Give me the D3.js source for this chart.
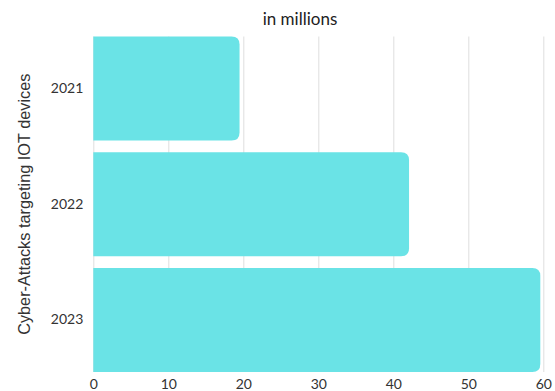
<!DOCTYPE html>
<html>
<head>
<meta charset="utf-8">
<script src="https://cdn.jsdelivr.net/npm/d3@7"></script>
<style>
  html, body { margin: 0; padding: 0; background: #fff; }
  svg { display: block; }
</style>
</head>
<body>
<svg id="chart" width="555" height="391"></svg>
<script>
// Cyber-attacks targeting IoT devices, in millions
const years = ["2021", "2022", "2023"];
const attacks = [19.5, 42.1, 59.6];
const xTicks = [0, 10, 20, 30, 40, 50, 60];

const width = 555, height = 391;
const margin = { top: 36.5, right: 12, bottom: 19, left: 93.3 };
const svg = d3.select("#chart");

const x = d3.scaleLinear()
  .domain([0, 60])
  .range([margin.left, margin.left + 450]);

const y = d3.scaleBand()
  .domain(years)
  .range([margin.top, height - margin.bottom])
  .paddingInner(0.1)
  .paddingOuter(0);

// vertical gridlines
svg.append("g")
  .selectAll("line")
  .data(xTicks)
  .join("line")
  .attr("x1", d => x(d) + 0.5)
  .attr("x2", d => x(d) + 0.5)
  .attr("y1", margin.top)
  .attr("y2", height - margin.bottom)
  .attr("stroke", "#dedede")
  .attr("stroke-width", 1);

// bars: square on the left, rounded on the right
const r = 8;
function barPath(x0, x1, y0, h) {
  const rr = Math.min(r, (x1 - x0) / 2, h / 2);
  return `M${x0},${y0}` +
    `H${x1 - rr}` +
    `Q${x1},${y0} ${x1},${y0 + rr}` +
    `V${y0 + h - rr}` +
    `Q${x1},${y0 + h} ${x1 - rr},${y0 + h}` +
    `H${x0}Z`;
}

svg.append("g")
  .selectAll("path")
  .data(years.map((yr, i) => ({ yr, v: attacks[i] })))
  .join("path")
  .attr("d", d => barPath(x(0), x(d.v), y(d.yr), y.bandwidth()))
  .attr("fill", "#6ae3e6");

// x axis labels
const xAxis = svg.append("g")
  .attr("transform", `translate(0,${height - margin.bottom})`)
  .call(d3.axisBottom(x).tickValues(xTicks).tickSize(0).tickPadding(7));
xAxis.select(".domain").remove();
xAxis.selectAll("text")
  .attr("font-family", "Lato, sans-serif")
  .attr("font-size", 14)
  .attr("fill", "#333");

// y axis labels
const yAxis = svg.append("g")
  .attr("transform", `translate(${margin.left},0)`)
  .call(d3.axisLeft(y).tickSize(0).tickPadding(10));
yAxis.select(".domain").remove();
yAxis.selectAll("text")
  .attr("font-family", "Lato, sans-serif")
  .attr("font-size", 14)
  .attr("fill", "#333");

// title
svg.append("text")
  .attr("x", 300)
  .attr("y", 25)
  .attr("text-anchor", "middle")
  .attr("font-family", "Lato, sans-serif")
  .attr("font-size", 17)
  .attr("fill", "#222")
  .text("in millions");

// y axis title
svg.append("text")
  .attr("transform", `translate(30,${(margin.top + height - margin.bottom) / 2}) rotate(-90)`)
  .attr("text-anchor", "middle")
  .attr("font-family", "'Liberation Sans', Arial, sans-serif")
  .attr("font-size", 16.3)
  .attr("fill", "#333")
  .text("Cyber-Attacks targeting IOT devices");
</script>
</body>
</html>
